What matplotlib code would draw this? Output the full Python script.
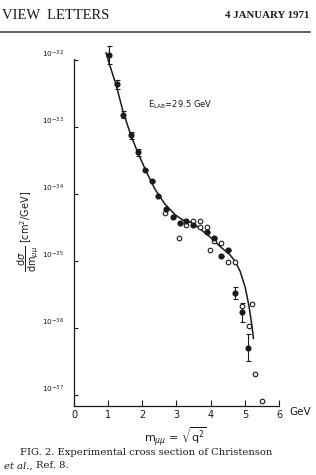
import numpy as np
import matplotlib.pyplot as plt

# filled circles (log10 of d sigma / dm, cm^2/GeV) with error in decades
filled_m = [1.02, 1.25, 1.44, 1.67, 1.87, 2.08, 2.28, 2.47, 2.69, 2.89,
            3.10, 3.28, 3.49, 3.90, 4.10, 4.29, 4.50, 4.71, 4.91, 5.10]
filled_log = [-31.93, -32.37, -32.82, -33.13, -33.38, -33.65, -33.81, -34.03, -34.23, -34.34,
              -34.43, -34.41, -34.47, -34.56, -34.66, -34.92, -34.83, -35.48, -35.76, -36.29]
filled_err = [0.13, 0.07, 0.05, 0.05, 0.05, 0.0, 0.0, 0.0, 0.0, 0.0,
              0.0, 0.0, 0.0, 0.0, 0.0, 0.0, 0.0, 0.09, 0.14, 0.2]

# open circles
open_m = [2.67, 3.28, 3.08, 3.49, 3.69, 3.69, 3.88, 4.10, 4.29, 3.98,
          4.50, 4.71, 4.91, 5.20, 5.11, 5.30, 5.51]
open_log = [-34.28, -34.46, -34.65, -34.40, -34.41, -34.50, -34.49, -34.70, -34.73, -34.83,
            -35.01, -35.02, -35.67, -35.64, -35.97, -36.68, -37.08]

# theory curve
curve_m = [0.94, 1.05, 1.23, 1.43, 1.64, 1.87, 2.11, 2.37, 2.66, 2.96, 3.19,
           3.45, 3.69, 3.98, 4.27, 4.57, 4.71, 4.86, 5.01, 5.12, 5.21, 5.25]
curve_log = [-31.90, -32.09, -32.37, -32.76, -33.09, -33.39, -33.66, -33.93, -34.15, -34.31, -34.39,
             -34.43, -34.52, -34.64, -34.78, -34.91, -35.00, -35.15, -35.39, -35.67, -35.97, -36.15]

ink = "#1a1a1a"

fig = plt.figure(figsize=(3.16, 4.75), dpi=100)
ax = fig.add_axes([0.234, 0.145, 0.649, 0.731])

fy = 10.0 ** np.array(filled_log)
fe = np.array(filled_err)
yerr = [fy - fy * 10.0 ** (-fe), fy * 10.0 ** fe - fy]

ax.plot(curve_m, 10.0 ** np.array(curve_log), color=ink, lw=1.1, clip_on=False)
ax.errorbar(filled_m, fy, yerr=yerr, fmt="o", color=ink, ms=3.4, elinewidth=0.8,
            capsize=1.8, capthick=0.8, clip_on=False)
ax.plot(open_m, 10.0 ** np.array(open_log), "o", mfc="white", mec=ink, ms=3.3, mew=0.8,
        clip_on=False)

ax.set_yscale("log")
ax.set_xlim(0, 6)
ax.set_ylim(10 ** -37.16, 10 ** -31.99)
ax.set_xticks([0, 1, 2, 3, 4, 5, 6])
ax.set_yticks([1e-32, 1e-33, 1e-34, 1e-35, 1e-36, 1e-37])
ax.set_yticklabels([r"10$^{-%d}$" % k for k in [32, 33, 34, 35, 36, 37]])
ax.yaxis.set_minor_locator(plt.NullLocator())
ax.tick_params(axis="x", direction="in", length=4, width=0.8, labelsize=7, pad=3, colors=ink)
ax.tick_params(axis="y", direction="in", length=3, width=0.8, labelsize=5.3, pad=7, colors=ink)
for lab in ax.get_yticklabels():
    lab.set_va("bottom")
for s in ["top", "right"]:
    ax.spines[s].set_visible(False)
for s in ["left", "bottom"]:
    ax.spines[s].set_linewidth(0.9)
    ax.spines[s].set_color(ink)

ax.text(2.17, 10 ** -32.67, r"E$_{\rm LAB}$=29.5 GeV", fontsize=6, color=ink, va="center")

fig.text(0.915, 0.133, "GeV", fontsize=7.5, color=ink, va="center", ha="left")
fig.text(0.554, 0.08, r"m$_{\mu\mu}$ = $\sqrt{\rm q^2}$", fontsize=8, color=ink,
         ha="center", va="center")
fig.text(0.088, 0.512, r"$\dfrac{\mathrm{d}\sigma}{\mathrm{dm}_{\mu\mu}}$ [cm$^2$/GeV]",
         fontsize=7, color=ink, rotation=90, ha="center", va="center")

# page header and caption
fig.text(0.005, 0.968, "VIEW  LETTERS", fontsize=10.5, family="Liberation Serif",
         color=ink, va="center", ha="left")
fig.text(0.98, 0.968, "4 JANUARY 1971", fontsize=7.8, family="Liberation Serif",
         weight="bold", color=ink, va="center", ha="right")
fig.add_artist(plt.Line2D([0.0, 0.98], [0.933, 0.933], color="#444444", lw=1.2))

fig.text(0.063, 0.048, "FIG. 2. Experimental cross section of Christenson", fontsize=7.2,
         family="DejaVu Serif", color=ink, va="center", ha="left")
fig.text(0.013, 0.019, "et al.,", fontsize=7.2, family="DejaVu Serif", style="italic",
         color=ink, va="center", ha="left")
fig.text(0.115, 0.019, "Ref. 8.", fontsize=7.2, family="DejaVu Serif",
         color=ink, va="center", ha="left")

fig.savefig("out.png", dpi=100)
